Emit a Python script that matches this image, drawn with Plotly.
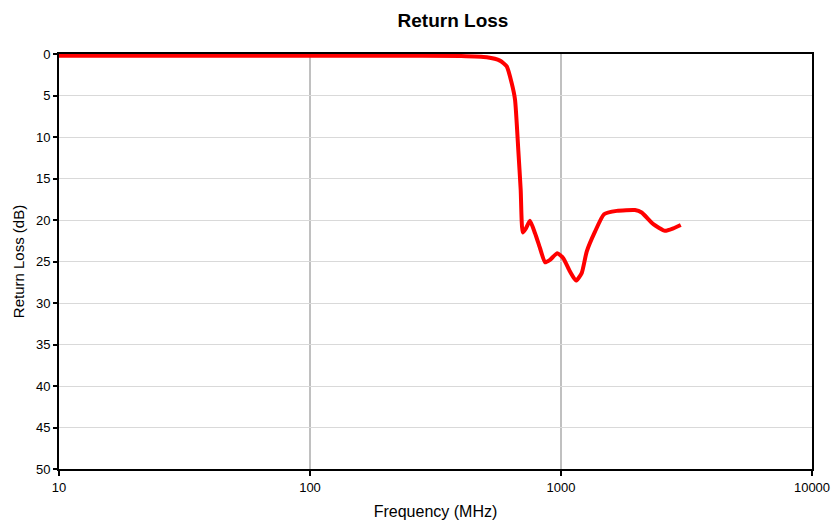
import plotly.graph_objects as go

freq_mhz = [10, 50, 200, 400, 506, 571, 608, 636, 656, 676, 691, 704, 725, 752, 788, 825,
            864, 904, 967, 1021, 1086, 1148, 1209, 1266, 1366, 1484, 1667, 1971, 2096,
            2332, 2596, 2802, 3000]
return_loss_db = [0.2, 0.2, 0.2, 0.25, 0.4, 0.8, 1.5, 3.5, 5.5, 11.6, 16.4, 21.5, 21.0,
                  20.1, 21.6, 23.4, 25.1, 24.8, 24.0, 24.6, 26.2, 27.3, 26.4, 23.8, 21.4,
                  19.3, 18.9, 18.8, 19.1, 20.5, 21.3, 21.0, 20.6]
x_ticks = [10, 100, 1000, 10000]
y_ticks = list(range(0, 51, 5))

W, H = 833, 531

fig = go.Figure()
fig.add_trace(go.Scatter(
    x=freq_mhz, y=return_loss_db, mode="lines",
    line=dict(color="#FF0000", width=4, shape="spline", smoothing=0.5),
    showlegend=False, hoverinfo="x+y",
))

font = "Liberation Sans, Arial, sans-serif"
fig.update_layout(
    width=W, height=H,
    margin=dict(l=59, r=21, t=54, b=62),
    paper_bgcolor="white", plot_bgcolor="white",
    font=dict(family=font, color="black", size=13),
    title=dict(text="<b>Return Loss</b>", x=453/W, xanchor="center",
               y=1 - 20/H, yanchor="middle", font=dict(size=19, family=font)),
)
fig.update_xaxes(
    type="log", range=[1, 4], tickvals=x_ticks, ticktext=[str(v) for v in x_ticks],
    showgrid=True, gridcolor="#C0C0C0", gridwidth=2,
    showline=True, linecolor="black", linewidth=2, mirror=True,
    ticks="outside", ticklen=5, tickwidth=2, tickcolor="black",
    tickfont=dict(size=13),
    title=dict(text="Frequency (MHz)", font=dict(size=16), standoff=12),
    zeroline=False, automargin=False,
)
fig.update_yaxes(
    range=[50, 0], tickvals=y_ticks,
    showgrid=True, gridcolor="#D9D9D9", gridwidth=1,
    showline=True, linecolor="black", linewidth=2, mirror=True,
    ticks="outside", ticklen=4, tickwidth=2, tickcolor="black",
    tickfont=dict(size=13),
    title=dict(text="Return Loss (dB)", font=dict(size=15), standoff=8),
    zeroline=False, automargin=False,
)

fig.write_html(
    "out.html",
    config={"displayModeBar": False},
    post_script="document.body.style.margin='0';document.body.style.overflow='hidden';",
)
